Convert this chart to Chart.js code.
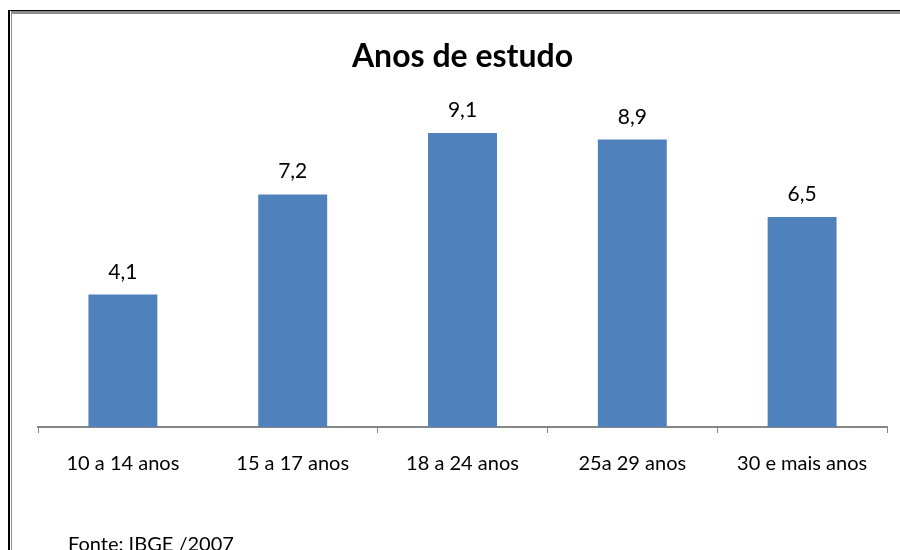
<!DOCTYPE html>
<html>
<head>
<meta charset="utf-8">
<script src="https://cdn.jsdelivr.net/npm/chart.js@4.4.1/dist/chart.umd.min.js"></script>
<style>
  html, body { margin: 0; padding: 0; background: #ffffff; }
  #wrap { width: 900px; height: 550px; position: relative; }
</style>
</head>
<body>
<div id="wrap"><canvas id="c" width="900" height="550"></canvas></div>
<script>
// Média de anos de estudo por faixa etária
const categories = ['10 a 14 anos', '15 a 17 anos', '18 a 24 anos', '25a 29 anos', '30 e mais anos'];
const anosEstudo = [4.1, 7.2, 9.1, 8.9, 6.5];
const titulo = 'Anos de estudo';
const fonte = 'Fonte: IBGE /2007';

const FONT = 'Lato, "Open Sans", "Liberation Sans", sans-serif';
const AXIS_GRAY = '#868686';

// Moldura (linha preta + linha cinza) e fundo branco
const framePlugin = {
  id: 'frame',
  beforeDraw(chart) {
    const ctx = chart.ctx;
    ctx.save();
    ctx.fillStyle = '#ffffff';
    ctx.fillRect(0, 0, chart.width, chart.height);
    ctx.fillStyle = '#000000';
    ctx.fillRect(8, 10, 2, chart.height - 10);
    ctx.fillRect(8, 10, chart.width - 8, 1);
    ctx.fillStyle = '#8c8c8c';
    ctx.fillRect(11, 11, chart.width - 11, 3);
    ctx.fillRect(11, 11, 1, chart.height - 11);
    ctx.restore();
  },
  afterDraw(chart) {
    const ctx = chart.ctx;
    ctx.save();
    ctx.fillStyle = '#000000';
    ctx.font = '20px ' + FONT;
    ctx.textAlign = 'left';
    ctx.textBaseline = 'alphabetic';
    ctx.fillText(fonte, 68, 551);
    ctx.restore();
  }
};

// Rótulos de valor acima das barras, com vírgula decimal
const valueLabels = {
  id: 'valueLabels',
  afterDatasetsDraw(chart) {
    const ctx = chart.ctx;
    const meta = chart.getDatasetMeta(0);
    ctx.save();
    ctx.fillStyle = '#000000';
    ctx.font = '21px ' + FONT;
    ctx.textAlign = 'center';
    ctx.textBaseline = 'alphabetic';
    meta.data.forEach((bar, i) => {
      const txt = anosEstudo[i].toFixed(1).replace('.', ',');
      ctx.fillText(txt, bar.x, bar.y - 16);
    });
    ctx.restore();
  }
};

new Chart(document.getElementById('c'), {
  type: 'bar',
  data: {
    labels: categories,
    datasets: [{
      data: anosEstudo,
      backgroundColor: '#4F81BD',
      borderWidth: 0,
      categoryPercentage: 1.0,
      barPercentage: 0.406
    }]
  },
  options: {
    responsive: false,
    animation: false,
    layout: { padding: { left: 38, right: 13, top: 0, bottom: 0 } },
    plugins: {
      legend: { display: false },
      tooltip: { enabled: false },
      title: {
        display: true,
        text: titulo,
        color: '#000000',
        font: { family: FONT, size: 32, weight: 'bold', lineHeight: 1.2 },
        padding: { top: 37, bottom: 28.6 }
      }
    },
    scales: {
      x: {
        grid: {
          offset: true,
          drawOnChartArea: false,
          drawTicks: true,
          tickLength: 6,
          tickWidth: 1,
          tickColor: (c) => (c.index === 1 ? 'rgba(0,0,0,0)' : AXIS_GRAY)
        },
        border: { display: true, color: AXIS_GRAY, width: 2 },
        ticks: {
          color: '#000000',
          font: { family: FONT, size: 20 },
          padding: 19,
          maxRotation: 0,
          autoSkip: false
        },
        afterFit(scale) { scale.height = 123; }
      },
      y: {
        display: false,
        min: 0,
        max: 10
      }
    }
  },
  plugins: [framePlugin, valueLabels]
});
</script>
</body>
</html>
